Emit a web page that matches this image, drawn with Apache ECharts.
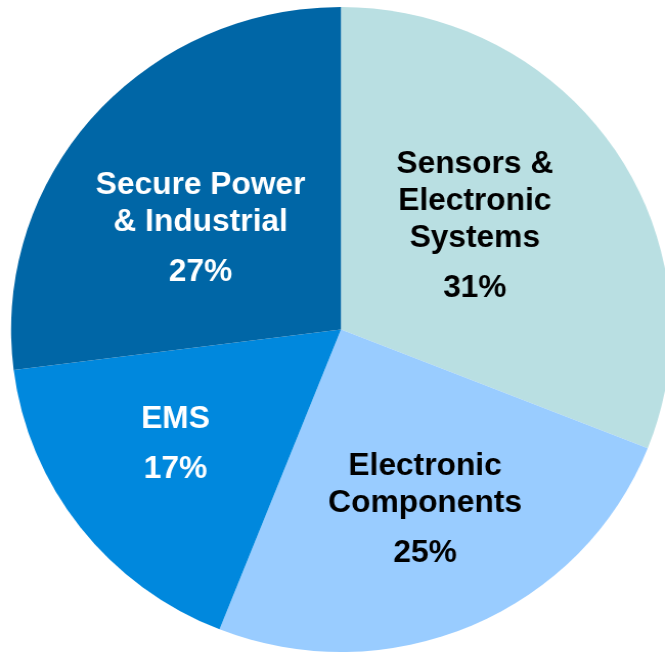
<!DOCTYPE html>
<html>
<head>
<meta charset="utf-8">
<style>
html,body{margin:0;padding:0;background:#fff;overflow:hidden;}
#chart{width:650px;height:654px;transform:scaleX(1.023);transform-origin:0 0;}
</style>
<script src="https://cdn.jsdelivr.net/npm/echarts@6/dist/echarts.min.js"></script>
</head>
<body>
<div id="chart"></div>
<script>
var categories = ['Sensors &\nElectronic\nSystems', 'Electronic\nComponents', 'EMS', 'Secure Power\n& Industrial'];
var values = [31, 25, 17, 27];
var sliceColors = ['#b9dfe2', '#99ccff', '#0088dd', '#0066a6'];
var labelColors = ['#000000', '#000000', '#ffffff', '#ffffff'];
var labelOffsets = [[-5, -4], [17, 36], [-32, 21], [-14, 15]];

var chart = echarts.init(document.getElementById('chart'), null, {renderer: 'canvas'});
var data = categories.map(function (c, i) {
  return {
    name: c,
    value: values[i],
    itemStyle: {color: sliceColors[i]},
    label: {
      rich: {
        n: {color: labelColors[i], fontSize: 31, fontWeight: 'bold', fontFamily: 'Liberation Sans, Arial', lineHeight: 37, align: 'center'},
        p: {color: labelColors[i], fontSize: 31, fontWeight: 'bold', fontFamily: 'Liberation Sans, Arial', lineHeight: 63, align: 'center'}
      }
    }
  };
});
chart.setOption({
  animation: false,
  series: [{
    type: 'pie',
    center: [333.3, 329.5],
    radius: [0, 322.5],
    startAngle: 90,
    clockwise: true,
    itemStyle: {borderWidth: 0},
    label: {
      show: true,
      position: 'inside',
      formatter: function (p) { return '{n|' + p.name + '}\n{p|' + p.value + '%}'; }
    },
    labelLine: {show: false},
    emphasis: {disabled: true},
    labelLayout: function (params) {
      var o = labelOffsets[params.dataIndex];
      return {dx: o[0], dy: o[1]};
    },
    data: data
  }]
});
</script>
</body>
</html>
